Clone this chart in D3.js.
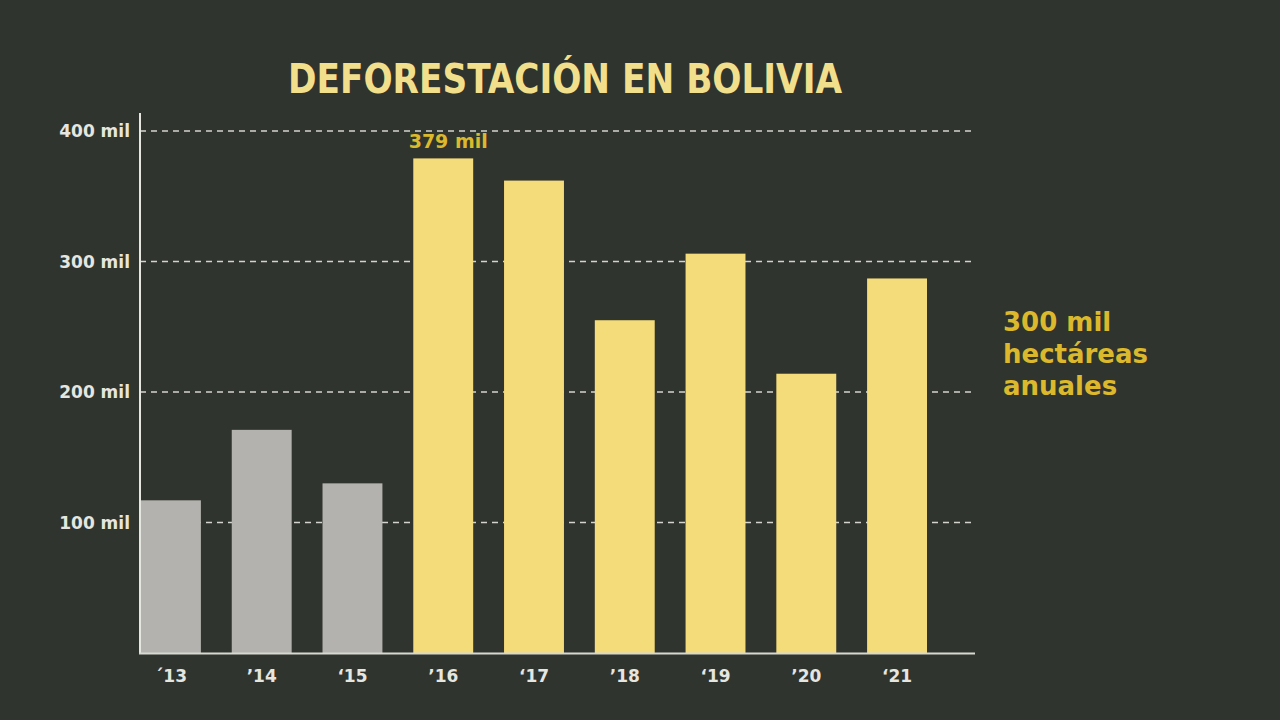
<!DOCTYPE html>
<html><head><meta charset="utf-8">
<script src="https://cdn.jsdelivr.net/npm/d3@7"></script>
<style>html,body{margin:0;padding:0;background:#30342e;}svg{display:block;}</style>
</head><body>
<script>
const years = ["´13", "’14", "‘15", "’16", "‘17", "’18", "‘19", "’20", "‘21"];
const values = [117, 171, 130, 379, 362, 255, 306, 214, 287];
const highlight = [false, false, false, true, true, true, true, true, true];
const yTicks = [100, 200, 300, 400];
const yTickLabels = ["100 mil", "200 mil", "300 mil", "400 mil"];

const W = 1280, H = 720;
const svg = d3.select("body").append("svg").attr("width", W).attr("height", H);
svg.append("rect").attr("width", W).attr("height", H).attr("fill", "#30342e");

const x = d3.scaleBand().domain(years).range([141, 927]).paddingInner(0.34).paddingOuter(0);
const y = d3.scaleLinear().domain([0, 400]).range([653, 131]);

// grid
const grid = svg.append("g");
grid.selectAll("line").data(yTicks).join("line")
  .attr("x1", 140).attr("x2", 975)
  .attr("y1", d => y(d)).attr("y2", d => y(d))
  .attr("stroke", "#d4d4ce").attr("stroke-width", 1.5)
  .attr("stroke-dasharray", "6,5");

// y labels
svg.append("g").selectAll("text").data(yTicks).join("text")
  .attr("x", 130).attr("y", d => y(d) + 6)
  .attr("text-anchor", "end")
  .attr("font-family", "DejaVu Sans").attr("font-weight", "bold").attr("font-size", 17)
  .attr("fill", "#e6e6e0")
  .text((d, i) => yTickLabels[i]);

// bars
svg.append("g").selectAll("rect").data(values).join("rect")
  .attr("x", (d, i) => x(years[i]))
  .attr("width", x.bandwidth())
  .attr("y", d => y(d))
  .attr("height", d => y(0) - y(d))
  .attr("fill", (d, i) => highlight[i] ? "#f5dc7a" : "#b3b2ae");

// axes lines
svg.append("line").attr("x1", 140).attr("x2", 140).attr("y1", 113).attr("y2", 654)
  .attr("stroke", "#e6e6e0").attr("stroke-width", 2);
svg.append("line").attr("x1", 139).attr("x2", 975).attr("y1", 653.5).attr("y2", 653.5)
  .attr("stroke", "#d8d8d2").attr("stroke-width", 2);

// x labels
svg.append("g").selectAll("text").data(years).join("text")
  .attr("x", d => x(d) + x.bandwidth() / 2)
  .attr("y", 682)
  .attr("text-anchor", "middle")
  .attr("font-family", "DejaVu Sans").attr("font-weight", "bold").attr("font-size", 17)
  .attr("fill", "#e6e6e0")
  .text(d => d);

// value annotation
svg.append("text")
  .attr("x", x(years[3]) + x.bandwidth() / 2 + 5).attr("y", 148)
  .attr("text-anchor", "middle")
  .attr("font-family", "DejaVu Sans").attr("font-weight", "bold").attr("font-size", 19)
  .attr("fill", "#dcb92c")
  .text(values[3] + " mil");

// title
svg.append("text")
  .attr("x", 565).attr("y", 93)
  .attr("text-anchor", "middle")
  .attr("font-family", "DejaVu Sans Condensed, DejaVu Sans, sans-serif")
  .attr("font-weight", "bold").attr("font-size", 41)
  .attr("textLength", 554).attr("lengthAdjust", "spacingAndGlyphs")
  .attr("fill", "#f2df8c")
  .text("DEFORESTACIÓN EN BOLIVIA");

// side note
const side = ["300 mil", "hectáreas", "anuales"];
svg.append("g").selectAll("text").data(side).join("text")
  .attr("x", 1003).attr("y", (d, i) => 331 + i * 32)
  .attr("font-family", "DejaVu Sans").attr("font-weight", "bold").attr("font-size", 26)
  .attr("fill", "#dcb92c")
  .text(d => d);
</script>
</body></html>
